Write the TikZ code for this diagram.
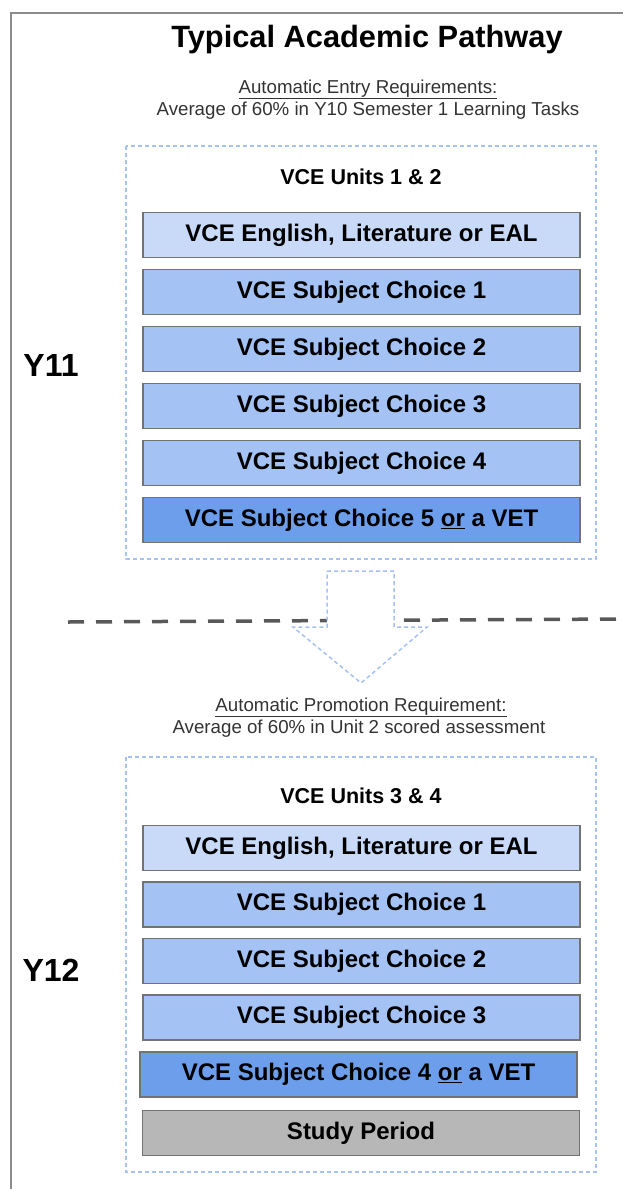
\documentclass[tikz,border=0pt]{standalone}
\usepackage{fontspec}
\setmainfont{Liberation Sans}
\definecolor{engblue}{HTML}{C9DAF8}
\definecolor{subjblue}{HTML}{A4C2F4}
\definecolor{vetblue}{HTML}{6D9EEB}
\definecolor{studygray}{HTML}{B7B7B7}
\definecolor{edgeblue}{HTML}{A4C2F4}
\begin{document}
\begin{tikzpicture}[x=1pt,y=-1pt,
  subject/.style={draw=black!55, line width=1.2pt, minimum width=437pt, minimum height=45pt, inner sep=0pt, font=\fontsize{24}{26}\selectfont\bfseries},
  unitbox/.style={draw=edgeblue, line width=1.5pt, dash pattern=on 4pt off 3pt},
  req/.style={font=\fontsize{18.7}{21}\selectfont, text=black!80, anchor=base},
  unithead/.style={font=\fontsize{21.5}{24}\selectfont\bfseries, anchor=base},
  yearlabel/.style={font=\fontsize{32}{35}\selectfont\bfseries}]
\useasboundingbox (0,0) rectangle (623,1189);
\draw[black!45, line width=2pt] (11,1189) -- (11,13) -- (623,13);

\node[font=\fontsize{30.8}{34}\selectfont\bfseries, anchor=base] (title) at (367,47) {Typical Academic Pathway};
\node[req] (entryhead) at (368,93) {\underline{Automatic Entry Requirements:}};
\node[req] (entrytext) at (368,115) {Average of 60\% in Y10 Semester 1 Learning Tasks};

% Y11
\draw[unitbox] (126,146) rectangle (596,559);
\node[unithead] (unitsA) at (361,184) {VCE Units 1 \& 2};
\node[subject, fill=engblue] (engA) at (361.5,235) {VCE English, Literature or EAL};
\foreach \k [count=\row] in {1,...,4}
  \node[subject, fill=subjblue] (choiceA\k) at (361.5,{235+57*\row}) {VCE Subject Choice \k};
\node[subject, fill=vetblue] (vetA) at (361.5,520) {VCE Subject Choice 5 \underline{or} a VET};
\node[yearlabel] (yA) at (51,365) {Y11};

% divider, arrow on top of it
\draw[black!65, line width=3.5pt, dash pattern=on 16pt off 12pt] (68,622) -- (623,619);
\draw[unitbox, fill=white] (327,571) -- (394,571) -- (394,627) -- (427,627) -- (361,683) -- (293,627) -- (327,627) -- cycle;

\node[req] (promohead) at (361,711) {\underline{Automatic Promotion Requirement:}};
\node[req] (promotext) at (359,733) {Average of 60\% in Unit 2 scored assessment};

% Y12
\draw[unitbox] (126,757) rectangle (596,1172);
\node[unithead] (unitsB) at (361,803) {VCE Units 3 \& 4};
\node[subject, fill=engblue] (engB) at (361.5,848) {VCE English, Literature or EAL};
\foreach \k [count=\row] in {1,...,3}
  \node[subject, fill=subjblue] (choiceB\k) at (361.5,{848+56.5*\row}) {VCE Subject Choice \k};
\node[subject, fill=vetblue] (vetB) at (358.5,1074.5) {VCE Subject Choice 4 \underline{or} a VET};
\node[subject, fill=studygray] (studyB) at (361,1133) {Study Period};
\node[yearlabel] (yB) at (51,970) {Y12};
\end{tikzpicture}
\end{document}
